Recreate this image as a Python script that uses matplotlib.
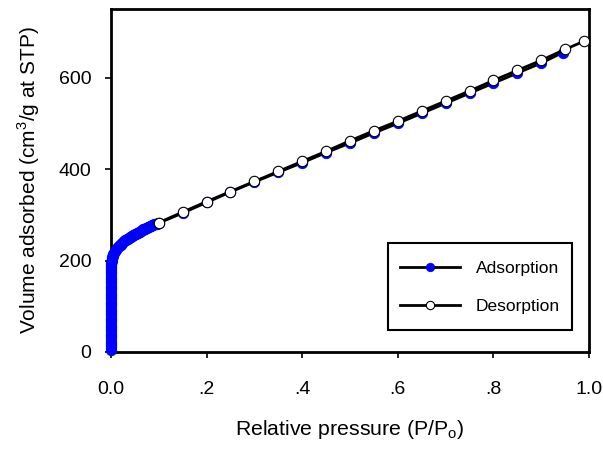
import numpy as np
import matplotlib
matplotlib.use('agg')
import matplotlib.pyplot as plt
from matplotlib.legend_handler import HandlerLine2D

plt.rcParams['font.family'] = ['Liberation Sans', 'DejaVu Sans']

# Adsorption branch (P/Po, cm3/g STP)
ads_p = [0.0001, 0.0001, 0.0001, 0.0001, 0.0001, 0.0001, 0.0001, 0.0001, 0.0001, 0.0001,
         0.0001, 0.0001, 0.0001, 0.0001, 0.0001, 0.0001, 0.0001, 0.0001, 0.0001, 0.0001,
         0.0001, 0.0001, 0.0001, 0.0001, 0.0001, 0.0001, 0.0001, 0.0001, 0.0001, 0.0001,
         0.0002, 0.0002, 0.0002, 0.0003, 0.0003, 0.0004, 0.0005, 0.0006, 0.0008, 0.001,
         0.0015, 0.002, 0.003, 0.004, 0.005, 0.0065, 0.008, 0.01, 0.012, 0.014, 0.016,
         0.018, 0.02, 0.022, 0.024, 0.026, 0.028, 0.030, 0.032, 0.034, 0.036, 0.038,
         0.040, 0.042, 0.044, 0.046, 0.048, 0.050, 0.052, 0.054, 0.056, 0.058, 0.060,
         0.062, 0.064, 0.066, 0.068, 0.070, 0.072, 0.074, 0.076, 0.078, 0.080, 0.082,
         0.084, 0.086, 0.088, 0.090, 0.092, 0.094, 0.096, 0.098, 0.1,
         0.15, 0.2, 0.25, 0.3, 0.35, 0.4, 0.45, 0.5, 0.55, 0.6, 0.65, 0.7, 0.75,
         0.8, 0.85, 0.9, 0.945]
ads_v = [5, 10, 15, 20, 25, 30, 35, 40, 45, 50,
         55, 60, 65, 70, 75, 80, 85, 90, 95, 100,
         105, 110, 115, 120, 125, 130, 135, 140, 145, 150,
         155, 160, 165, 170, 175, 180, 184, 188, 192, 196,
         200, 204, 208, 211, 214, 217, 220, 224, 227, 229, 231,
         233, 235, 237, 239, 241, 242, 244, 245, 247, 248, 250,
         251, 252, 254, 255, 256, 257, 259, 260, 261, 262, 263,
         264, 266, 267, 268, 269, 270, 271, 272, 273, 274, 275,
         276, 277, 278, 279, 279, 280, 281, 282, 282,
         304, 327, 350, 372, 393, 414, 436, 457, 479, 500, 522, 544, 566,
         588, 610, 632, 655]

# Desorption branch
des_p = [0.99, 0.95, 0.9, 0.85, 0.8, 0.75, 0.7, 0.65, 0.6, 0.55, 0.5,
         0.45, 0.4, 0.35, 0.3, 0.25, 0.2, 0.15, 0.1]
des_v = [680, 662, 638, 616, 594, 571, 549, 527, 505, 484, 462,
         439, 417, 395, 373, 351, 329, 306, 283]


# keep legend line level with the label text even with tall rows
class LevelLine(HandlerLine2D):
    def create_artists(self, legend, orig_handle, xdescent, ydescent, width, height, fontsize, trans):
        return super().create_artists(legend, orig_handle, xdescent, ydescent, width,
                                      ydescent + 0.7 * fontsize, fontsize, trans)


fig = plt.figure(figsize=(6.03, 4.54), dpi=100)
ax = fig.add_axes([0.184, 0.2247, 0.793, 0.7553])

l1, = ax.plot(ads_p, ads_v, '-', color='black', linewidth=2, marker='o', markersize=7.5,
              markerfacecolor='#0000ff', markeredgecolor='#0000ff', markeredgewidth=0.6,
              clip_on=False, zorder=3, label='Adsorption')
l2, = ax.plot(des_p, des_v, '-', color='black', linewidth=2, marker='o', markersize=7.5,
              markerfacecolor='white', markeredgecolor='black', markeredgewidth=0.8,
              clip_on=False, zorder=4, label='Desorption')

ax.set_xlim(0, 1.0)
ax.set_ylim(0, 750)
ax.set_xticks([0, 0.2, 0.4, 0.6, 0.8, 1.0])
ax.set_xticklabels(['0.0', '.2', '.4', '.6', '.8', '1.0'])
ax.set_yticks([0, 200, 400, 600])
ax.tick_params(direction='out', length=4, width=1.2, labelsize=14, colors='black')
ax.tick_params(axis='x', pad=17)
ax.tick_params(axis='y', pad=10)
for s in ax.spines.values():
    s.set_linewidth(2)

ax.set_xlabel('Relative pressure (P/P$_\\mathregular{o}$)', fontsize=15.3, labelpad=14)
ax.set_ylabel('Volume adsorbed (cm$^\\mathregular{3}$/g at STP)', fontsize=15, labelpad=12)

leg = ax.legend(loc='lower right', bbox_to_anchor=(0.9644, 0.064), fontsize=12.5,
                handlelength=3.45, handleheight=1.92, borderpad=0.69, labelspacing=0.656,
                handletextpad=0.92, borderaxespad=0, fancybox=False, framealpha=1,
                edgecolor='black', handler_map={l1: LevelLine(), l2: LevelLine()})
leg.get_frame().set_linewidth(1.5)
for h in leg.legend_handles:
    h.set_markersize(6)

fig.savefig('out.png', dpi=100)
